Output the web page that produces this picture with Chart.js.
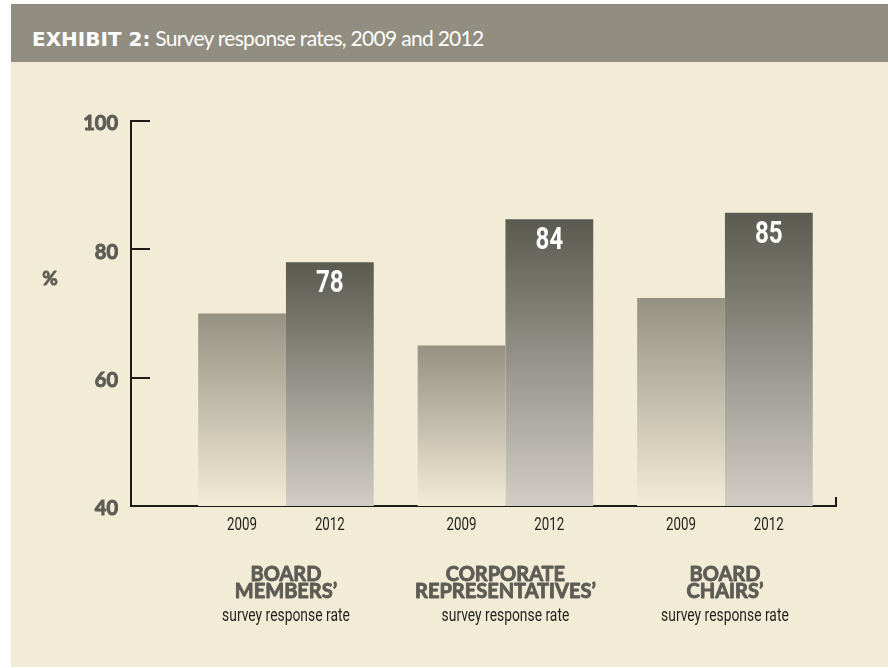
<!DOCTYPE html>
<html>
<head>
<meta charset="utf-8">
<script src="https://cdn.jsdelivr.net/npm/chart.js@4/dist/chart.umd.min.js"></script>
<style>
  html, body { margin: 0; padding: 0; background: #ffffff; width: 888px; height: 668px; overflow: hidden; }
  #panel { position: absolute; left: 11px; top: 4px; width: 877px; height: 663px; background: #f2ecd7; }
  #header { position: absolute; left: 11px; top: 4px; width: 877px; height: 58px; background: #918e81; }
  #title { position: absolute; left: 21px; top: 22px; color: #ffffff; font-family: Lato, 'Open Sans', sans-serif; font-size: 21px; line-height: 24px; white-space: nowrap; letter-spacing: -0.7px; }
  #title b { font-family: 'DejaVu Sans', sans-serif; font-weight: bold; font-size: 20px; letter-spacing: 0; }
  #wrap { position: absolute; left: 0; top: 0; width: 888px; height: 668px; }
</style>
</head>
<body>
<div id="panel"></div>
<div id="header"><div id="title"><b>EXHIBIT 2:</b> Survey response rates, 2009 and 2012</div></div>
<div id="wrap"><canvas id="c" width="888" height="668"></canvas></div>
<script>
// ---- data ----
const categoryTitles = [["BOARD", "MEMBERS’"], ["CORPORATE", "REPRESENTATIVES’"], ["BOARD", "CHAIRS’"]];
const categorySub = "survey response rate";
const years = ["2009", "2012"];
const rate2009 = [70, 65, 72.4];
const rate2012 = [78, 84.7, 85.7];
const labels2012 = ["78", "84", "85"];
const yTicks = [40, 60, 80, 100];
const yUnit = "%";

// ---- styling ----
const NARROW = "Roboto, 'DejaVu Sans', sans-serif";
const GEO = "Lato, 'Open Sans', sans-serif";
const AXIS = "#1c1b18";
const GREY_TXT = "#5d5c55";

const positions = categoryTitles.map((_, i) => i + 1);

function barGradient(topColor, bottomColor) {
  return function (ctx) {
    const chart = ctx.chart;
    const area = chart.chartArea;
    if (!area || ctx.type !== 'data' || !ctx.parsed) return topColor;
    const yTop = chart.scales.y.getPixelForValue(ctx.parsed.y);
    const g = chart.ctx.createLinearGradient(0, yTop, 0, area.bottom);
    g.addColorStop(0, topColor);
    g.addColorStop(1, bottomColor);
    return g;
  };
}

// draw real text, horizontally condensed
function narrowText(c, text, x, y, font, sx) {
  c.save();
  c.translate(x, y);
  c.scale(sx, 1);
  c.font = font;
  c.fillText(text, 0, 0);
  c.restore();
}
function heavyText(c, text, x, y, font, color) {
  c.font = font;
  c.fillStyle = color;
  c.strokeStyle = color;
  c.lineWidth = 0.9;
  c.lineJoin = 'round';
  c.fillText(text, x, y);
  c.strokeText(text, x, y);
}

const annotatePlugin = {
  id: 'annotate',
  afterDraw(chart) {
    const c = chart.ctx;
    const area = chart.chartArea;
    const xs = chart.scales.x;
    c.save();
    // small end tick on the x axis
    c.strokeStyle = AXIS;
    c.lineWidth = 2;
    c.beginPath();
    c.moveTo(area.right, area.bottom + 1);
    c.lineTo(area.right, area.bottom - 9);
    c.stroke();

    c.textAlign = 'center';
    c.textBaseline = 'top';

    // value labels on 2012 bars
    const meta12 = chart.getDatasetMeta(1);
    c.fillStyle = '#ffffff';
    meta12.data.forEach((bar, i) => {
      narrowText(c, labels2012[i], bar.x, bar.y + 7, "bold 31px " + NARROW, 0.78);
    });

    // year labels under each bar
    c.fillStyle = '#221f1b';
    [0, 1].forEach(d => {
      chart.getDatasetMeta(d).data.forEach(bar => {
        narrowText(c, years[d], bar.x, area.bottom + 10, "18px " + NARROW, 0.74);
      });
    });

    // category labels
    positions.forEach((p, i) => {
      const x = xs.getPixelForValue(p);
      categoryTitles[i].forEach((line, k) => {
        heavyText(c, line, x, area.bottom + 59 + k * 17, "bold 20px " + GEO, GREY_TXT);
      });
      c.fillStyle = '#221f1b';
      narrowText(c, categorySub, x, area.bottom + 101, "18px " + NARROW, 0.77);
    });

    // unit
    c.textBaseline = 'middle';
    heavyText(c, yUnit, 50, 279, "bold 19px " + GEO, GREY_TXT);
    c.restore();
  }
};

new Chart(document.getElementById('c'), {
  type: 'bar',
  data: {
    datasets: [
      {
        label: years[0],
        data: positions.map((x, i) => ({ x: x, y: rate2009[i] })),
        backgroundColor: barGradient('#959181', '#f2ebd6'),
        borderWidth: 0,
        categoryPercentage: 0.8,
        barPercentage: 1.0
      },
      {
        label: years[1],
        data: positions.map((x, i) => ({ x: x, y: rate2012[i] })),
        backgroundColor: barGradient('#5a5a50', '#d1cdc6'),
        borderWidth: 0,
        categoryPercentage: 0.8,
        barPercentage: 1.0
      }
    ]
  },
  options: {
    responsive: false,
    animation: false,
    devicePixelRatio: 1,
    layout: { padding: { top: 121, right: 52, bottom: 0, left: 0 } },
    plugins: { legend: { display: false }, tooltip: { enabled: false }, title: { display: false } },
    scales: {
      x: {
        type: 'linear',
        offset: false,
        min: 0.294,
        max: 3.506,
        afterBuildTicks: s => { s.ticks = positions.map(v => ({ value: v })); },
        afterFit: s => { s.height = 162; },
        ticks: { display: false },
        grid: { display: false, offset: false },
        border: { display: true, color: AXIS, width: 2 }
      },
      y: {
        min: 40,
        max: 100,
        afterBuildTicks: s => { s.ticks = yTicks.map(v => ({ value: v })); },
        afterFit: s => { s.width = 131; },
        ticks: { padding: 32, labelOffset: 3, color: GREY_TXT, textStrokeColor: GREY_TXT, textStrokeWidth: 1, font: { family: GEO, weight: 'bold', size: 20 } },
        grid: { display: true, drawOnChartArea: false, drawTicks: true, tickLength: -19, color: AXIS, lineWidth: 2 },
        border: { display: true, color: AXIS, width: 2 }
      }
    }
  },
  plugins: [annotatePlugin]
});
</script>
</body>
</html>
